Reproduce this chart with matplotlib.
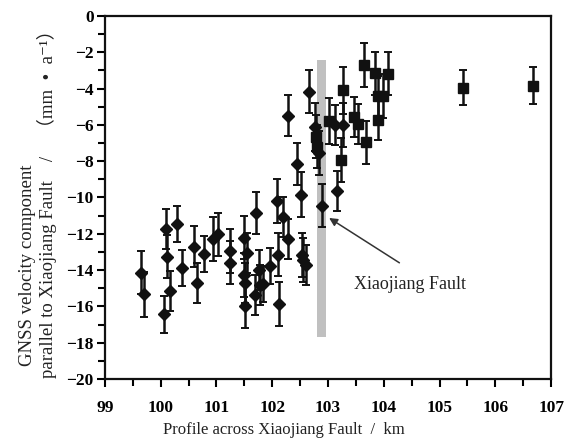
import numpy as np
import matplotlib.pyplot as plt
from matplotlib.ticker import MultipleLocator

plt.rcParams['font.family'] = ['Liberation Serif', 'DejaVu Serif', 'Noto Sans CJK SC']
plt.rcParams['mathtext.fontset'] = 'stix'

# ── Data ──────────────────────────────────────────────────────────────────────
# west side stations (diamonds): distance along profile, velocity, 1-sigma
dia_x = [99.64, 99.70, 100.06, 100.09, 100.11, 100.17, 100.30, 100.39, 100.60, 100.65,
         100.77, 100.93, 101.03, 101.24, 101.24, 101.50, 101.54, 101.49, 101.51, 101.52,
         101.69, 101.71, 101.77, 101.78, 101.84, 101.96, 102.09, 102.11, 102.13, 102.20,
         102.28, 102.29, 102.44, 102.52, 102.53, 102.56, 102.61, 102.66, 102.76, 102.83,
         102.90, 103.12, 103.16, 103.27]
dia_y = [-14.14, -15.33, -16.44, -11.75, -13.26, -15.13, -11.48, -13.87, -12.71, -14.73,
         -13.11, -12.30, -12.03, -12.95, -13.59, -12.21, -13.04, -14.27, -14.70, -15.98,
         -15.35, -10.85, -13.99, -14.82, -14.78, -13.77, -10.21, -13.15, -15.88, -11.10,
         -12.30, -5.49, -8.15, -9.86, -13.17, -13.44, -13.72, -4.17, -6.12, -7.55,
         -10.46, -6.00, -9.64, -6.00]
dia_err = [1.2, 1.25, 1.0, 1.1, 1.2, 1.1, 1.0, 1.0, 1.13, 1.1,
           1.0, 1.2, 1.2, 1.2, 1.2, 1.2, 1.1, 1.2, 1.1, 1.2,
           1.1, 1.15, 1.1, 1.1, 1.0, 1.0, 1.2, 1.2, 1.2, 1.1,
           1.1, 1.13, 1.15, 1.24, 1.2, 1.2, 1.1, 1.2, 1.3, 1.2,
           1.18, 1.1, 1.1, 1.2]

# east side stations (squares)
sq_x = [102.79, 102.80, 103.01, 103.23, 103.26, 103.46, 103.53, 103.64, 103.68, 103.85,
        103.89, 103.89, 103.99, 104.07, 105.42, 106.67]
sq_y = [-6.65, -7.20, -5.77, -7.93, -4.10, -5.58, -5.93, -2.70, -6.97, -3.16,
        -4.41, -5.73, -4.41, -3.18, -3.95, -3.84]
sq_err = [1.2, 1.2, 1.26, 1.2, 1.3, 1.1, 1.1, 1.2, 1.2, 1.2,
          1.1, 1.1, 1.2, 1.2, 0.95, 1.0]

fault_x = (102.81, 102.97)
fault_y = (-17.7, -2.4)

# ── Figure ────────────────────────────────────────────────────────────────────
fig = plt.figure(figsize=(5.67, 4.43), dpi=100, facecolor='white')
ax = fig.add_axes([0.185, 0.1445, 0.787, 0.8195])

ax.fill_between(fault_x, fault_y[0], fault_y[1], color='#c0c0c0', lw=0, zorder=1)

eb = dict(fmt='none', ecolor='#111111', elinewidth=1.8, capsize=3, capthick=1.4, zorder=2)
ax.errorbar(dia_x, dia_y, yerr=dia_err, **eb)
ax.errorbar(sq_x, sq_y, yerr=sq_err, **eb)
ax.plot(dia_x, dia_y, 'D', ms=6.3, color='#111111', zorder=3)
ax.plot(sq_x, sq_y, 's', ms=6.5, color='#111111', zorder=3)

ax.annotate('', xy=(103.02, -11.13), xytext=(104.28, -13.6),
            arrowprops=dict(arrowstyle='-|>', color='#333333', lw=1.1,
                            mutation_scale=12, shrinkA=0, shrinkB=0))
ax.text(104.47, -14.82, 'Xiaojiang Fault', ha='center', va='center',
        fontsize=13, color='#222222')

ax.set_xlim(99, 107)
ax.set_ylim(-20, 0)
ax.xaxis.set_major_locator(MultipleLocator(1))
ax.xaxis.set_minor_locator(MultipleLocator(0.5))
ax.yaxis.set_major_locator(MultipleLocator(2))
ax.yaxis.set_minor_locator(MultipleLocator(1))
ax.tick_params(which='both', direction='out', width=1.5, top=False, right=False)
ax.tick_params(which='major', length=6)
ax.tick_params(which='minor', length=5)
ax.tick_params(axis='x', which='major', pad=9)
ax.tick_params(axis='y', which='major', pad=2)
for lab in ax.get_xticklabels() + ax.get_yticklabels():
    lab.set_fontsize(12.5)
    lab.set_fontweight('bold')
for s in ax.spines.values():
    s.set_linewidth(1.6)
    s.set_color('#111111')

fig.text(0.5, 0.012, 'Profile across Xiaojiang Fault  /  km', ha='center', va='bottom',
         fontsize=12, color='#222222', transform=fig.transFigure)
fig.text(0.048, 0.174, 'GNSS velocity component', rotation=90, ha='center', va='bottom',
         fontsize=13.5, color='#222222')
fig.text(0.083, 0.147, 'parallel to Xiaojiang Fault    /    （mm  •  a⁻¹）', rotation=90,
         ha='center', va='bottom', fontsize=13.5, color='#222222')

fig.savefig('out.png', dpi=100, facecolor='white')
